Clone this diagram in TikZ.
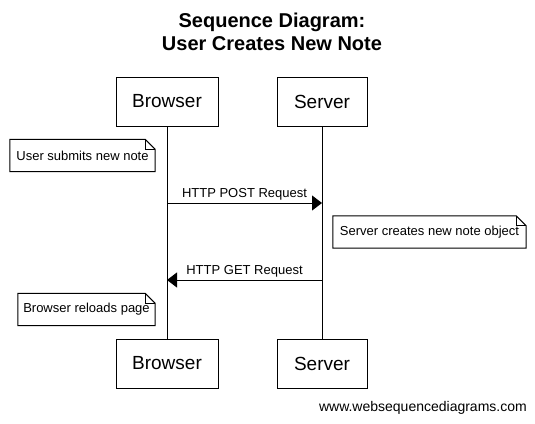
\documentclass[tikz,border=0pt]{standalone}
\usepackage{fontspec}
\setmainfont{Liberation Sans}
\usetikzlibrary{arrows.meta}

\tikzset{
	actor/.style={draw, line width=1pt, minimum height=49pt, inner sep=0pt, font=\fontsize{19}{22}\selectfont},
	note/.style={minimum height=32pt, inner sep=0pt, font=\fontsize{13}{15}\selectfont},
	msg/.style={line width=1pt, -{Triangle[length=10pt,width=15pt]}},
	msglabel/.style={midway, above=1pt, inner sep=1pt, font=\fontsize{13}{15}\selectfont},
}
% note outline with folded corner
\newcommand{\dogear}[1]{%
	\draw[line width=1pt] (#1.south west) -- (#1.south east) -- ([yshift=-10pt]#1.north east)
		-- ([xshift=-10pt]#1.north east) -- (#1.north west) -- cycle;
	\draw[line width=1pt] ([xshift=-10pt]#1.north east) -- ([xshift=-10pt,yshift=-10pt]#1.north east)
		-- ([yshift=-10pt]#1.north east);
}

\begin{document}
\begin{tikzpicture}[x=1pt,y=-1pt]
	\useasboundingbox (0,0) rectangle (535,423);
	\node[anchor=north, align=center, inner sep=0pt, font=\bfseries\fontsize{20}{23}\selectfont] (title) at (272,13) {Sequence Diagram:\\User Creates New Note};

	\node[actor, minimum width=102pt] (btop) at (167,101.5) {Browser};
	\node[actor, minimum width=90pt] (stop) at (322,101.5) {Server};
	\node[actor, minimum width=102pt] (bbot) at (167,363.5) {Browser};
	\node[actor, minimum width=90pt] (sbot) at (322,363.5) {Server};
	\draw[line width=1pt] (btop) -- (bbot);
	\draw[line width=1pt] (stop) -- (sbot);

	\node[note, minimum width=145pt] (n1) at (82.5,155.5) {User submits new note};
	\dogear{n1}

	\coordinate (post1) at (167,203);
	\coordinate (post2) at (322,203);
	\draw[msg] (post1) -- (post2) node[msglabel] (postlbl) {HTTP POST Request};

	\node[note, minimum width=193pt] (n2) at (429.5,232) {Server creates new note object};
	\dogear{n2}

	\coordinate (get1) at (322,280);
	\coordinate (get2) at (167,280);
	\draw[msg] (get1) -- (get2) node[msglabel] (getlbl) {HTTP GET Request};

	\node[note, minimum width=137pt] (n3) at (86.5,309.5) {Browser reloads page};
	\dogear{n3}

	\node[anchor=base east, inner sep=0pt, font=\fontsize{14}{16}\selectfont] (wsd) at (527,411) {www.websequencediagrams.com};
\end{tikzpicture}
\end{document}
